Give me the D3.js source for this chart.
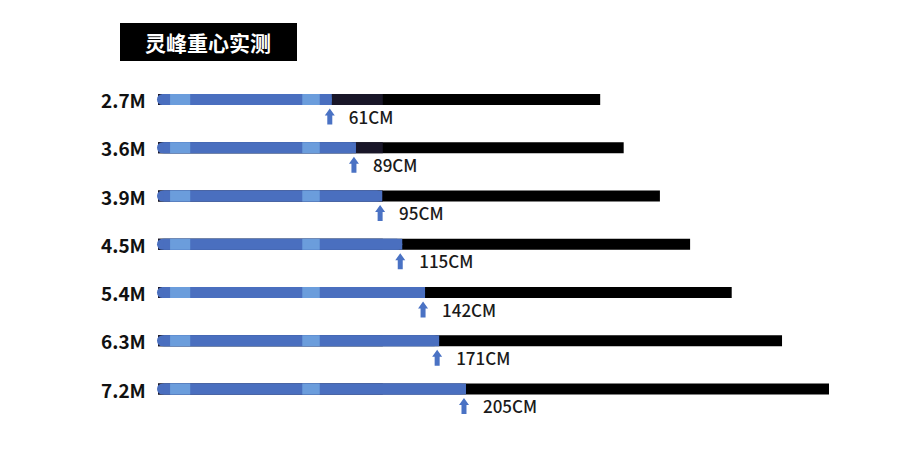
<!DOCTYPE html>
<html>
<head>
<meta charset="utf-8">
<script src="https://cdn.jsdelivr.net/npm/d3@7"></script>
<style>
  body { margin: 0; background: #fff; }
  svg { display: block; }
</style>
</head>
<body>
<svg id="canvas" width="905" height="463"></svg>
<script>
// data (lengths as % of the longest bar)
let distances = ['2.7M', '3.6M', '3.9M', '4.5M', '5.4M', '6.3M', '7.2M']
let dropCM = [61, 89, 95, 115, 142, 171, 205]
let dropLen = [25.9, 29.5, 33.4, 36.4, 39.8, 41.9, 45.9]
let totalLen = [65.9, 69.4, 74.8, 79.3, 85.5, 93.0, 100]
let navyEnd = 33.5
let lightSegs = [[1.8, 4.8], [21.5, 24.1]]

let canvas = d3.select('#canvas')

let x = d3.scaleLinear().domain([0, 100]).range([158, 829])
let y = d3.scalePoint().domain(distances).range([99.5, 389])

let blue = '#4a6fbf'
let lightBlue = '#6b9ddc'
let barH = 11

// title
canvas.append('rect')
    .attr('x', 120).attr('y', 23)
    .attr('width', 177).attr('height', 38)
    .attr('fill', '#000')
canvas.append('text')
    .attr('x', 208).attr('y', 42)
    .attr('text-anchor', 'middle')
    .attr('dominant-baseline', 'central')
    .attr('fill', '#fff')
    .style('font-family', '"Noto Sans CJK SC"')
    .style('font-weight', 700)
    .style('font-size', '21px')
    .text('灵峰重心实测')

let rows = canvas.selectAll('g.row')
    .data(distances)
    .enter()
    .append('g')
    .attr('class', 'row')
    .attr('transform', (d) => 'translate(0,' + y(d) + ')')

// distance labels
rows.append('text')
    .attr('x', 101)
    .attr('y', 0)
    .attr('dominant-baseline', 'central')
    .style('font-family', '"Noto Sans CJK SC"')
    .style('font-weight', 700)
    .style('font-size', '19px')
    .attr('fill', '#111')
    .text((d) => d)

// black bar
rows.append('rect')
    .attr('x', x(0))
    .attr('y', -barH / 2)
    .attr('width', (d, i) => x(totalLen[i]) - x(0))
    .attr('height', barH)
    .attr('fill', '#000')

// navy part
rows.append('rect')
    .attr('x', x(0))
    .attr('y', -barH / 2)
    .attr('width', x(navyEnd) - x(0))
    .attr('height', barH)
    .attr('fill', '#191628')

// blue bar with rounded left end
rows.append('rect')
    .attr('x', x(0) - 1)
    .attr('y', -barH / 2)
    .attr('width', (d, i) => x(dropLen[i]) - x(0) + 1)
    .attr('height', barH)
    .attr('rx', barH / 2)
    .attr('fill', blue)
rows.append('rect')
    .attr('x', x(0) + barH / 2)
    .attr('y', -barH / 2)
    .attr('width', (d, i) => x(dropLen[i]) - x(0) - barH / 2)
    .attr('height', barH)
    .attr('fill', blue)

lightSegs.forEach((s) => {
    rows.append('rect')
        .attr('x', x(s[0]))
        .attr('y', -barH / 2)
        .attr('width', x(s[1]) - x(s[0]))
        .attr('height', barH)
        .attr('fill', lightBlue)
})

// arrows
rows.append('path')
    .attr('d', (d, i) => {
        let cx = x(dropLen[i]) - 2
        let t = 9
        return 'M' + cx + ',' + t +
            'L' + (cx + 5) + ',' + (t + 7) +
            'L' + (cx + 2.5) + ',' + (t + 7) +
            'L' + (cx + 2.5) + ',' + (t + 16) +
            'L' + (cx - 2.5) + ',' + (t + 16) +
            'L' + (cx - 2.5) + ',' + (t + 7) +
            'L' + (cx - 5) + ',' + (t + 7) + 'Z'
    })
    .attr('fill', '#4a72c4')

// drop labels
rows.append('text')
    .attr('x', (d, i) => x(dropLen[i]) + 17)
    .attr('y', 24)
    .style('font-family', '"Noto Sans CJK SC"')
    .style('font-weight', 500)
    .style('font-size', '17px')
    .attr('fill', '#1a1a1a')
    .text((d, i) => dropCM[i] + 'CM')
</script>
</body>
</html>
